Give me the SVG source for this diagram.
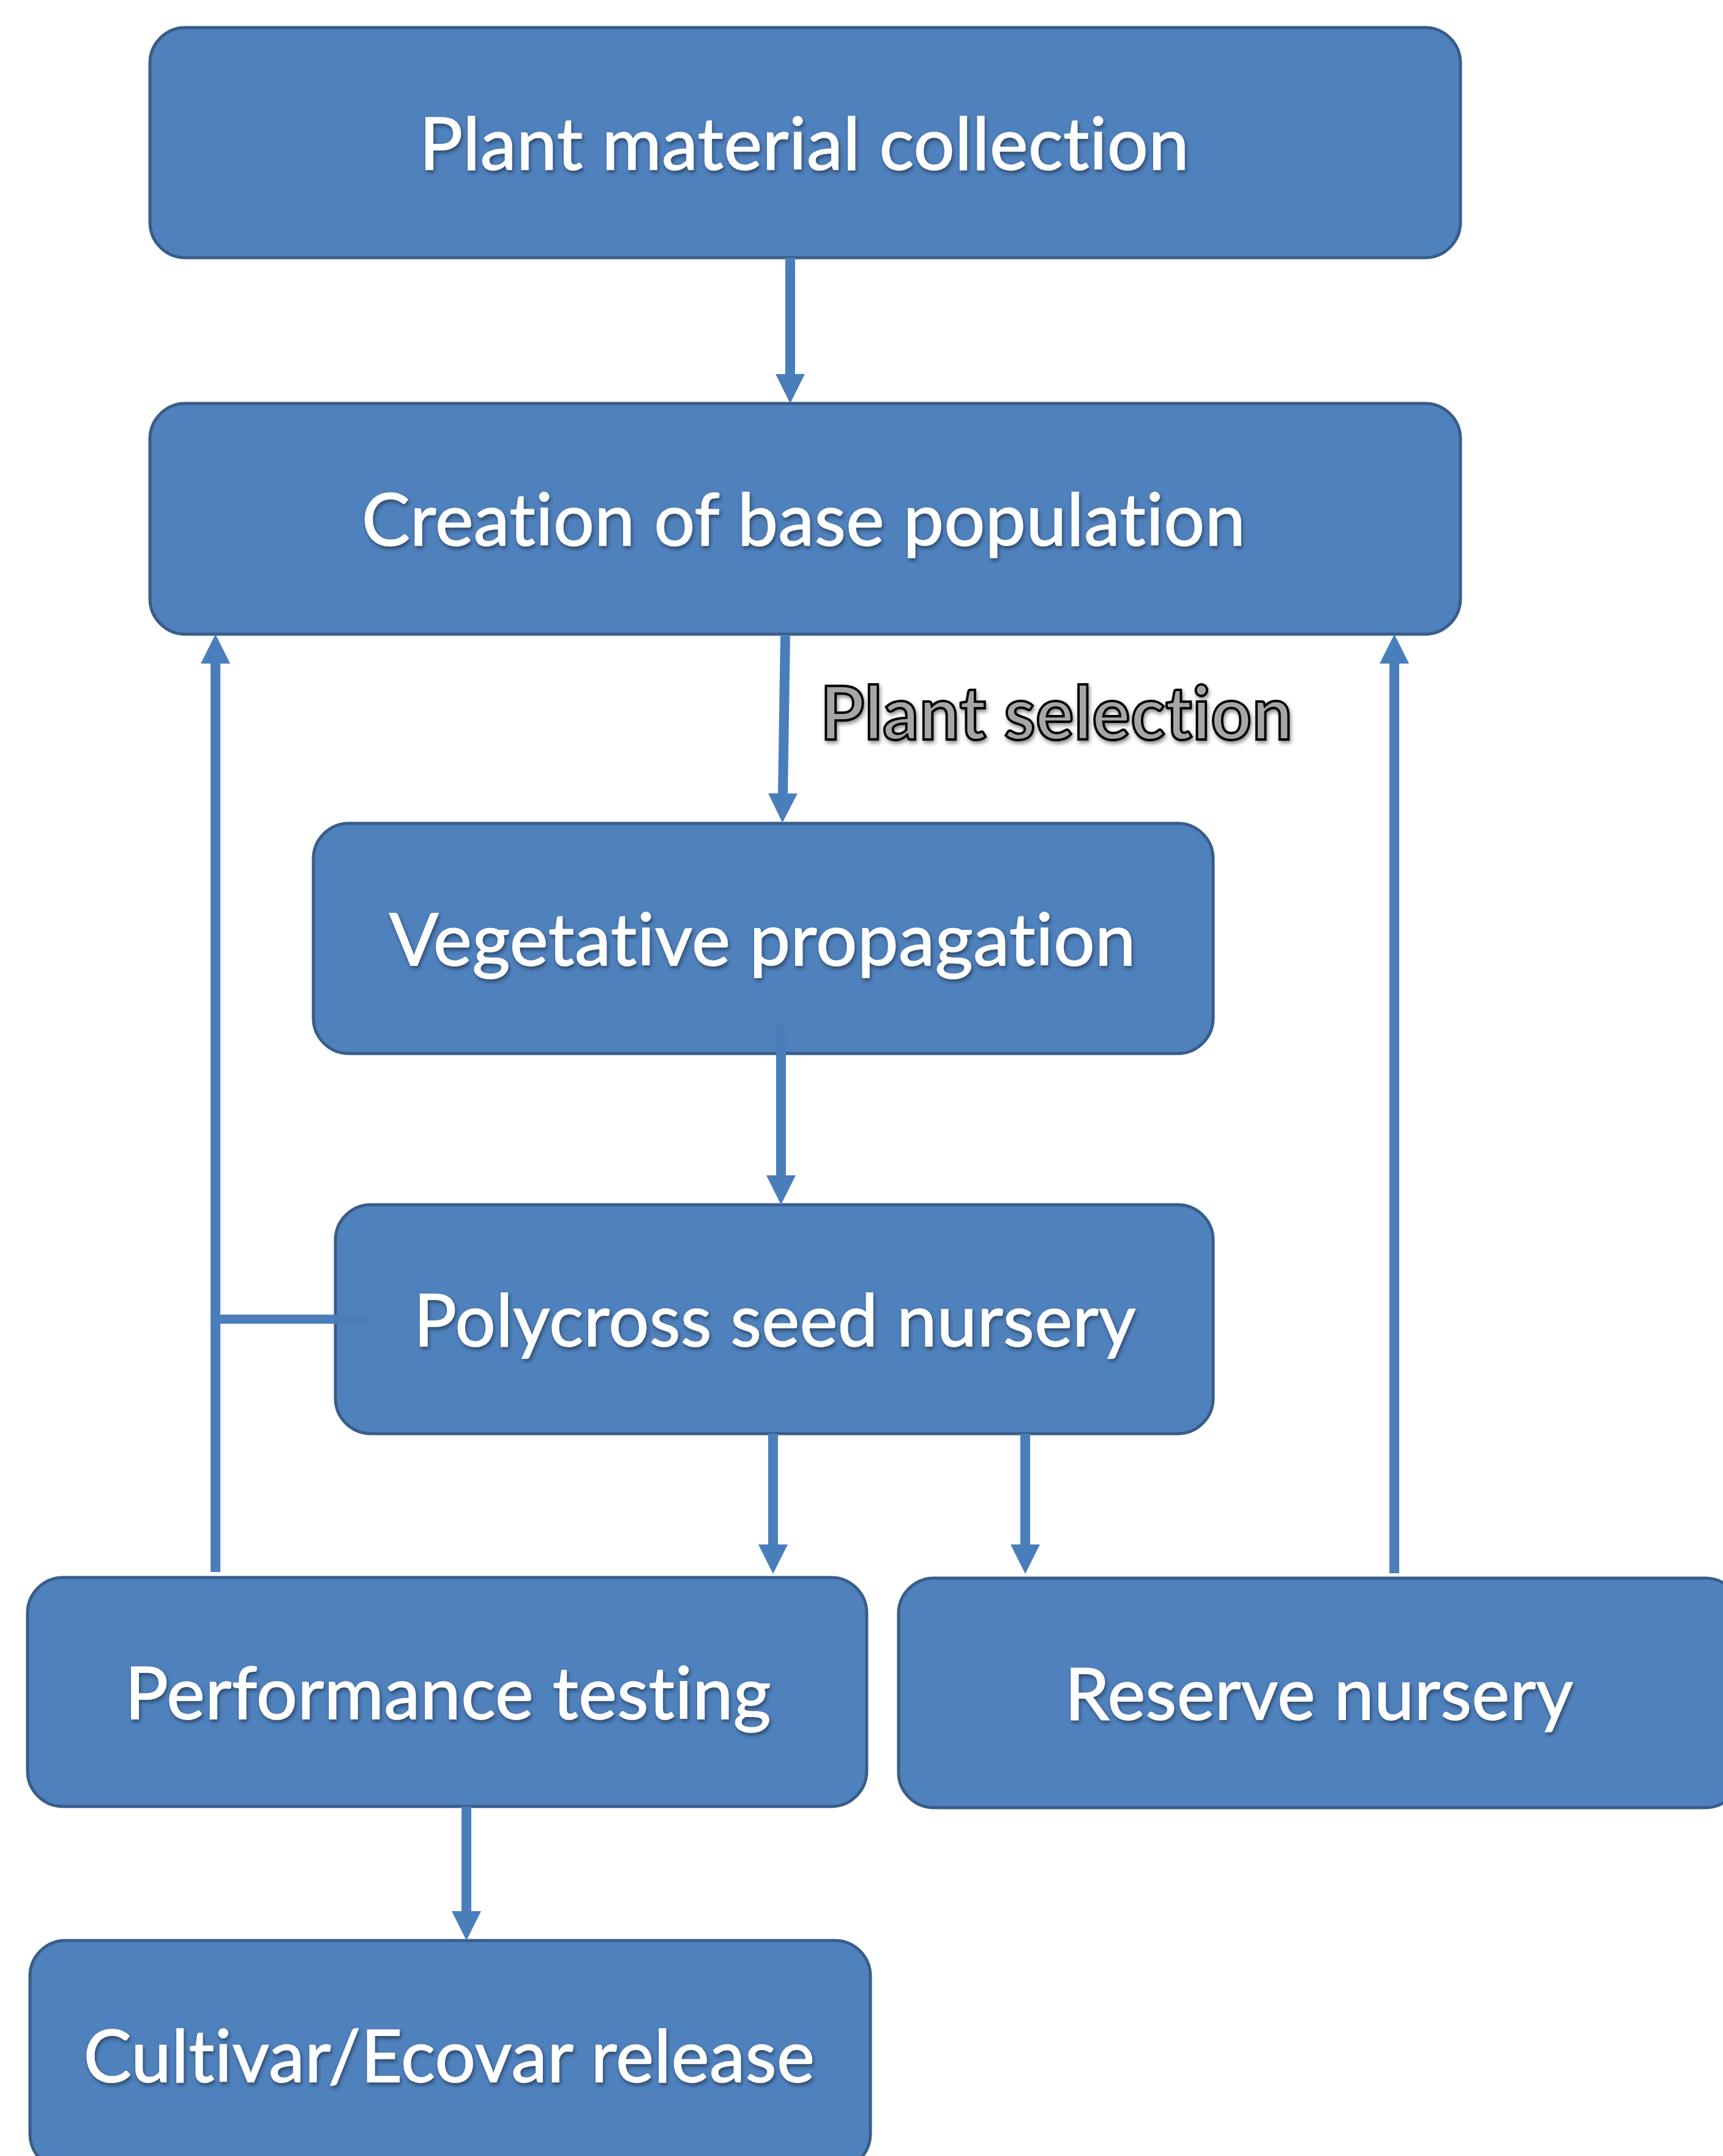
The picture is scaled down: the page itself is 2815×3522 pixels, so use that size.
<svg xmlns="http://www.w3.org/2000/svg" width="2815" height="3522" viewBox="0 0 2815 3522">
<style>
.box{fill:#4F81BD;stroke:#385D8A;stroke-width:5}
.lbl{font-family:Lato,"Open Sans","Liberation Sans",sans-serif;font-size:118px;fill:#FFFFFF;text-anchor:middle;filter:url(#ts);font-variant-ligatures:none;font-feature-settings:"liga" 0,"clig" 0,"dlig" 0;letter-spacing:0.5px;stroke:#FFFFFF;stroke-width:1.5}
.con{fill:none;stroke:#4A7EBB;stroke-width:16}
.sel{font-family:Lato,"Open Sans","Liberation Sans",sans-serif;font-weight:bold;font-size:120px;fill:#A6A6A6;stroke:#000000;stroke-width:4;text-anchor:start;filter:url(#ts);font-variant-ligatures:none;font-feature-settings:"liga" 0,"clig" 0,"dlig" 0;letter-spacing:0.5px}
</style>
<defs>
<filter id="ts" x="-10%" y="-30%" width="120%" height="160%">
<feDropShadow dx="2" dy="4" stdDeviation="3" flood-color="#000000" flood-opacity="0.45"/>
</filter>
<marker id="ah" viewBox="0 0 10 10" refX="0" refY="5" markerWidth="3" markerHeight="3" orient="auto" markerUnits="strokeWidth">
<path d="M0,0 L10,5 L0,10 z" fill="#4A7EBB"/>
</marker>
</defs>
<rect width="2815" height="3522" fill="#FFFFFF"/>
<g id="n1"><rect class="box" x="245" y="45" width="2141" height="376" rx="58"/><text class="lbl" x="1314" y="277" textLength="1258" lengthAdjust="spacingAndGlyphs">Plant material collection</text></g>
<g id="n2"><rect class="box" x="245" y="659" width="2141" height="377" rx="58"/><text class="lbl" x="1313" y="891" textLength="1444" lengthAdjust="spacingAndGlyphs">Creation of base population</text></g>
<g id="n3"><rect class="box" x="512" y="1345" width="1470" height="376" rx="58"/><text class="lbl" x="1246" y="1577" textLength="1220" lengthAdjust="spacingAndGlyphs">Vegetative propagation</text></g>
<g id="n4"><rect class="box" x="548" y="1968" width="1434" height="374" rx="58"/><text class="lbl" x="1266" y="2199" textLength="1180" lengthAdjust="spacingAndGlyphs">Polycross seed nursery</text></g>
<g id="n5"><rect class="box" x="45" y="2577" width="1371" height="374" rx="58"/><text class="lbl" x="732" y="2808" textLength="1056" lengthAdjust="spacingAndGlyphs">Performance testing</text></g>
<g id="n6"><rect class="box" x="1468" y="2578" width="1376" height="375" rx="58"/><text class="lbl" x="2155" y="2809" textLength="831" lengthAdjust="spacingAndGlyphs">Reserve nursery</text></g>
<g id="n7"><rect class="box" x="49" y="3170" width="1373" height="374" rx="58"/><text class="lbl" x="734" y="3401" textLength="1195" lengthAdjust="spacingAndGlyphs">Cultivar/Ecovar release</text></g>
<g id="connectors">
<path class="con" d="M1291,421 L1291,611" marker-end="url(#ah)"/>
<path class="con" d="M1283,1037 L1279,1296" marker-end="url(#ah)"/>
<path class="con" d="M1276,1674 L1276,1920" marker-end="url(#ah)"/>
<path class="con" d="M1263,2342 L1263,2523" marker-end="url(#ah)"/>
<path class="con" d="M1675,2342 L1675,2523" marker-end="url(#ah)"/>
<path class="con" d="M762,2951 L762,3122" marker-end="url(#ah)"/>
<path class="con" d="M352,2568 L352,1084" marker-end="url(#ah)"/>
<path class="con" d="M2278,2570 L2278,1084" marker-end="url(#ah)"/>
<path class="con" d="M352,2155 L602,2155" style="stroke-width:15"/>
</g>
<text id="plant-selection" class="sel" x="1340" y="1208" textLength="772" lengthAdjust="spacingAndGlyphs">Plant selection</text>
</svg>
